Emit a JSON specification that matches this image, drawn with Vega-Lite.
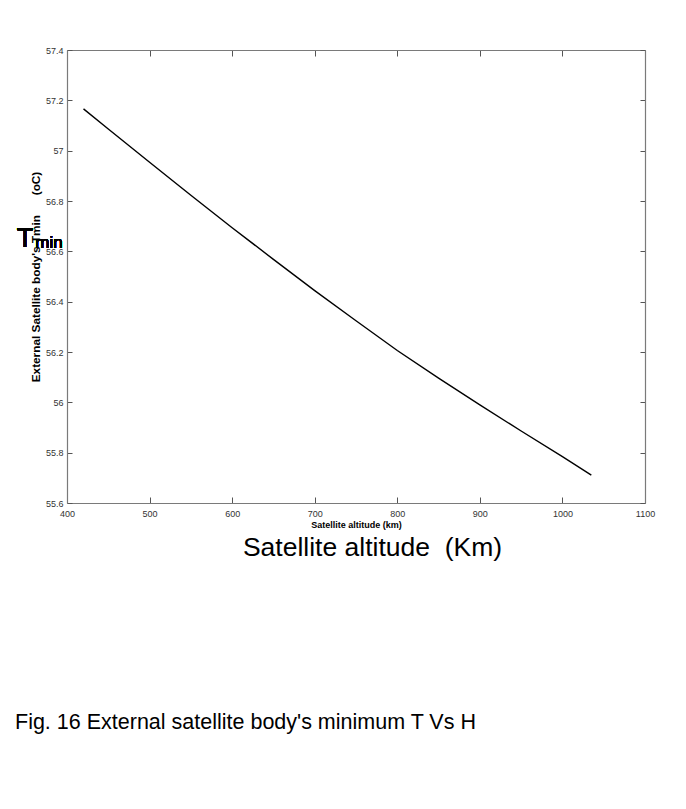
{
  "$schema": "https://vega.github.io/schema/vega-lite/v6.json",
  "width": 578,
  "height": 453,
  "autosize": {"type": "none"},
  "padding": {"left": 67, "top": 50, "right": 41, "bottom": 306},
  "background": "white",
  "config": {
    "view": {"stroke": null},
    "font": "Liberation Sans",
    "axis": {
      "grid": false,
      "domainColor": "#7a7a7a",
      "domainWidth": 1.2,
      "tickColor": "#555555",
      "tickWidth": 1,
      "labelFont": "Liberation Sans",
      "labelFontSize": 9,
      "labelColor": "#333333",
      "titleFont": "Liberation Sans",
      "titleFontWeight": "bold",
      "titleFontSize": 9,
      "titleColor": "black"
    }
  },
  "title": {
    "text": "Fig. 16 External satellite body's minimum T Vs H",
    "orient": "bottom",
    "anchor": "start",
    "frame": "group",
    "font": "Liberation Sans",
    "fontSize": 21.5,
    "fontWeight": "normal",
    "color": "black",
    "dx": -52,
    "offset": 151
  },
  "datasets": {
    "curve": [
      {"altitude": 420, "tmin": 57.166},
      {"altitude": 450, "tmin": 57.086},
      {"altitude": 500, "tmin": 56.954},
      {"altitude": 550, "tmin": 56.823},
      {"altitude": 600, "tmin": 56.694},
      {"altitude": 650, "tmin": 56.568},
      {"altitude": 700, "tmin": 56.444},
      {"altitude": 750, "tmin": 56.324},
      {"altitude": 800, "tmin": 56.206},
      {"altitude": 850, "tmin": 56.096},
      {"altitude": 900, "tmin": 55.99},
      {"altitude": 950, "tmin": 55.886},
      {"altitude": 1000, "tmin": 55.784},
      {"altitude": 1035, "tmin": 55.711}
    ]
  },
  "data": {"name": "curve"},
  "layer": [
    {
      "mark": {"type": "line", "color": "black", "strokeWidth": 1.4, "clip": false},
      "encoding": {
        "x": {
          "field": "altitude", "type": "quantitative",
          "scale": {"domain": [400, 1100], "nice": false, "zero": false},
          "axis": {
            "orient": "bottom",
            "values": [400, 500, 600, 700, 800, 900, 1000, 1100],
            "format": "d",
            "tickSize": -6,
            "labelPadding": 12,
            "labelFlush": false,
            "labelOverlap": false,
            "title": "Satellite altitude (km)",
            "titlePadding": 2
          }
        },
        "y": {
          "field": "tmin", "type": "quantitative",
          "scale": {"domain": [55.6, 57.4], "nice": false, "zero": false},
          "axis": {
            "orient": "left",
            "values": [55.6, 55.8, 56, 56.2, 56.4, 56.6, 56.8, 57, 57.2, 57.4],
            "format": "~g",
            "tickSize": -5,
            "labelPadding": 9,
            "labelFlush": false,
            "labelOverlap": false,
            "title": "External Satellite body's Tmin\u00a0\u00a0\u00a0\u00a0\u00a0\u00a0(oC)",
            "titleFontSize": 11.8,
            "titlePadding": 4
          }
        }
      }
    },
    {
      "mark": {"type": "line", "strokeOpacity": 0},
      "encoding": {
        "x": {
          "field": "altitude", "type": "quantitative",
          "axis": {
            "orient": "top",
            "values": [400, 500, 600, 700, 800, 900, 1000, 1100],
            "tickSize": -6,
            "labels": false,
            "title": null
          }
        },
        "y": {
          "field": "tmin", "type": "quantitative",
          "axis": {
            "orient": "right",
            "values": [55.6, 55.8, 56, 56.2, 56.4, 56.6, 56.8, 57, 57.2, 57.4],
            "tickSize": -5,
            "labels": false,
            "title": null
          }
        }
      }
    },
    {
      "mark": {"type": "line", "strokeOpacity": 0},
      "encoding": {
        "x": {
          "field": "altitude", "type": "quantitative",
          "axis": {
            "orient": "bottom",
            "domain": false,
            "ticks": false,
            "labels": false,
            "offset": 25,
            "title": "Satellite altitude\u00a0\u00a0(Km)",
            "titleFontSize": 26.5,
            "titleFontWeight": "normal",
            "titleX": 305,
            "titlePadding": 6
          }
        },
        "y": {"field": "tmin", "type": "quantitative", "axis": null}
      }
    },
    {
      "mark": {"type": "text", "text": "T", "fontSize": 27, "align": "center", "baseline": "alphabetic", "color": "black"},
      "encoding": {
        "x": {"datum": 349, "type": "quantitative", "axis": null},
        "y": {"datum": 56.617, "type": "quantitative", "axis": null}
      }
    },
    {
      "mark": {"type": "text", "text": "min", "fontSize": 17, "align": "left", "baseline": "alphabetic", "color": "black"},
      "encoding": {
        "x": {"datum": 361.6, "type": "quantitative", "axis": null},
        "y": {"datum": 56.613, "type": "quantitative", "axis": null}
      }
    }
  ],
  "resolve": {"axis": {"x": "independent", "y": "independent"}}
}
